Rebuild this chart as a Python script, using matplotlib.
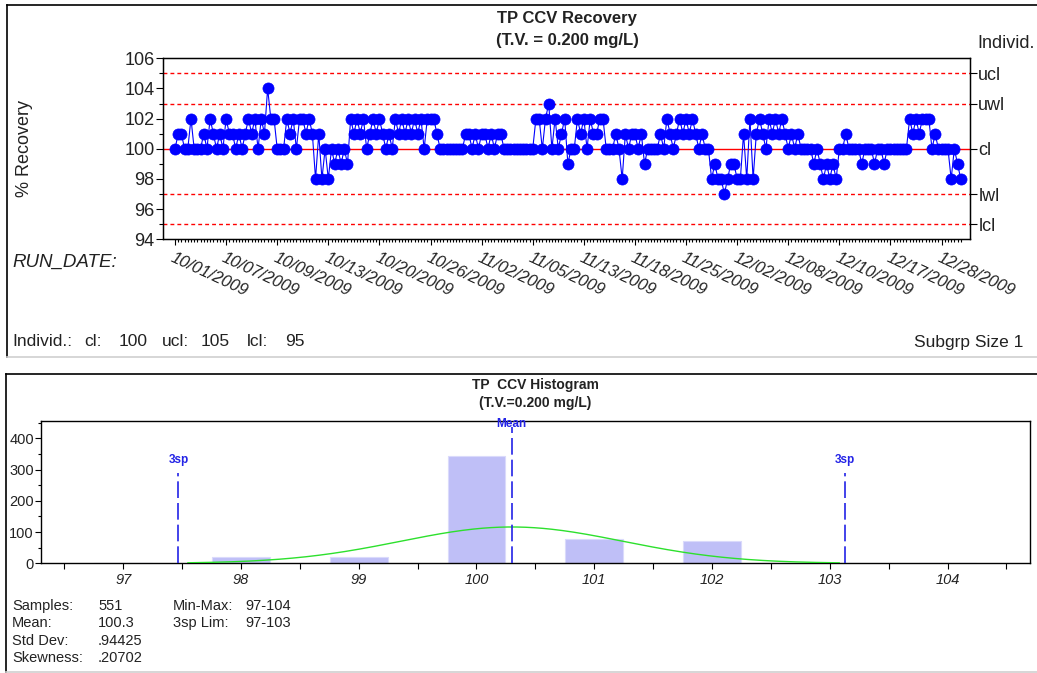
import matplotlib
matplotlib.use("Agg")
import matplotlib.pyplot as plt
from matplotlib.ticker import FixedLocator, MultipleLocator
from matplotlib.lines import Line2D
import numpy as np

plt.rcParams['font.family'] = ['Liberation Sans', 'DejaVu Sans']

# ---------------- data ----------------
recovery = [
    100, 101, 101, 100, 100, 102, 100, 100, 100, 101,
    100, 102, 101, 100, 101, 100, 102, 101, 101, 100,
    101, 100, 101, 102, 101, 102, 100, 102, 101, 104,
    102, 102, 100, 100, 100, 102, 101, 102, 100, 102,
    102, 101, 102, 101, 98, 101, 98, 100, 98, 100,
    99, 100, 99, 100, 99, 102, 101, 102, 101, 102,
    100, 101, 102, 101, 102, 101, 100, 101, 100, 102,
    101, 102, 101, 102, 101, 102, 101, 102, 100, 102,
    102, 102, 101, 100, 100, 100, 100, 100, 100, 100,
    100, 101, 101, 100, 101, 100, 101, 101, 100, 101,
    100, 101, 101, 100, 100, 100, 100, 100, 100, 100,
    100, 100, 100, 102, 102, 100, 102, 103, 100, 102,
    100, 101, 102, 99, 100, 100, 102, 101, 102, 100,
    102, 101, 101, 102, 102, 100, 100, 100, 101, 100,
    98, 101, 100, 101, 101, 100, 101, 99, 100, 100,
    100, 100, 101, 100, 102, 101, 100, 101, 102, 101,
    102, 101, 102, 101, 100, 101, 100, 100, 98, 99,
    98, 98, 97, 98, 99, 99, 98, 98, 101, 98,
    102, 98, 101, 102, 101, 100, 102, 101, 102, 101,
    102, 101, 100, 101, 100, 101, 100, 100, 100, 100,
    99, 100, 99, 98, 99, 98, 99, 98, 100, 100,
    101, 100, 100, 100, 100, 99, 100, 100, 100, 99,
    100, 100, 99, 100, 100, 100, 100, 100, 100, 100,
    102, 101, 102, 101, 102, 102, 102, 100, 101, 100,
    100, 100, 100, 98, 100, 99, 98,
]
date_labels = ["10/01/2009", "10/07/2009", "10/09/2009", "10/13/2009",
               "10/20/2009", "10/26/2009", "11/02/2009", "11/05/2009",
               "11/13/2009", "11/18/2009", "11/25/2009", "12/02/2009",
               "12/08/2009", "12/10/2009", "12/17/2009", "12/28/2009"]
runs_per_label = 16
limit_names = ["ucl", "uwl", "cl", "lwl", "lcl"]
limit_values = [105, 103, 100, 97, 95]

hist_bins = [97, 98, 99, 100, 101, 102, 103, 104]
hist_counts = [1, 20, 20, 345, 77, 70, 1, 1]
n_samples = 551
mean_val = 100.3
std_dev = 0.94425
skewness = 0.20702
sp_low, sp_high = 97.47, 103.13

# ---------------- figure ----------------
W, H = 1037, 673
fig = plt.figure(figsize=(W / 100, H / 100), dpi=100)
def fx(x): return x / W
def fy(y): return 1 - y / H
def rect(l, t, r, b): return [fx(l), fy(b), (r - l) / W, (b - t) / H]

TXT = '#222222'
# panel frames
for (l, t, r, b) in [(7, 5, 1037, 357), (6, 374, 1037, 672)]:
    fig.add_artist(Line2D([fx(l), fx(r)], [fy(t), fy(t)], color='black', lw=1.2))
    fig.add_artist(Line2D([fx(l), fx(l)], [fy(t), fy(b)], color='black', lw=1.2))
    fig.add_artist(Line2D([fx(l), fx(r)], [fy(b), fy(b)], color='#d0d0d0', lw=1.2))

# ---------------- top control chart ----------------
ax = fig.add_axes(rect(163, 58.3, 970, 239.3))
x = np.arange(len(recovery))
ax.axhline(100, color='red', lw=1.0, zorder=1)
for v in limit_values:
    if v != 100:
        ax.axhline(v, color='red', lw=1.0, ls=(0, (2.8, 2.2)), zorder=1)
ax.plot(x, recovery, color='blue', lw=0.8, marker='o', ms=8.0,
        mfc='blue', mec='blue', mew=0.5, zorder=3)
ax.set_xlim(-3.76, 248.9)
ax.set_ylim(94, 106)
ax.set_yticks(np.arange(94, 107, 2))
ax.yaxis.set_minor_locator(MultipleLocator(1))
ax.tick_params(axis='y', which='major', direction='out', length=5, width=0.8,
               labelsize=13, labelcolor=TXT, pad=1)
ax.tick_params(axis='y', which='minor', direction='out', length=3, width=0.8)
major_pos = list(range(0, len(date_labels) * runs_per_label, runs_per_label))
ax.set_xticks(major_pos)
ax.set_xticklabels(date_labels, rotation=-25, ha='left', va='top',
                   rotation_mode='anchor', fontsize=12, style='italic', color=TXT)
ax.xaxis.set_minor_locator(FixedLocator(list(range(len(recovery)))))
ax.tick_params(axis='x', which='major', direction='out', length=4, width=0.8, pad=4)
ax.tick_params(axis='x', which='minor', direction='out', length=2.5, width=0.8)
for s in ax.spines.values():
    s.set_linewidth(1.0)
ax.set_ylabel('% Recovery', fontsize=13, color=TXT, labelpad=66)

ax2 = ax.twinx()
ax2.set_ylim(94, 106)
ax2.set_yticks(limit_values)
ax2.set_yticklabels(limit_names)
ax2.tick_params(axis='y', direction='out', length=5, width=0.8, labelsize=13,
                labelcolor=TXT, pad=1)

fig.text(fx(567), fy(19), 'TP CCV Recovery', ha='center', va='center',
         fontsize=12, fontweight='bold', color=TXT)
fig.text(fx(567), fy(41), '(T.V. = 0.200 mg/L)', ha='center', va='center',
         fontsize=12, fontweight='bold', color=TXT)
fig.text(fx(977), fy(44), 'Individ.', ha='left', va='center', fontsize=13, color=TXT)
fig.text(fx(12), fy(262), 'RUN_DATE:', ha='left', va='center', fontsize=13.5,
         style='italic', color=TXT)
for txt, px in [('Individ.:', 12), ('cl:', 84), ('100', 119), ('ucl:', 162),
                ('105', 201), ('lcl:', 247), ('95', 285)]:
    fig.text(fx(px), fy(342), txt, ha='left', va='center', fontsize=12.5, color=TXT)
fig.text(fx(1023), fy(342), 'Subgrp Size 1', ha='right', va='center',
         fontsize=12.5, color=TXT)

# ---------------- histogram ----------------
axh = fig.add_axes(rect(40.7, 421, 1030, 563.3))
axh.bar(hist_bins, hist_counts, width=0.49, color='#bfbff7', edgecolor='#dadafb',
        lw=0.8, zorder=2)
xs = np.linspace(sp_low + 0.08, sp_high - 0.05, 300)
curve = n_samples * 0.5 / (std_dev * np.sqrt(2 * np.pi)) * \
    np.exp(-0.5 * ((xs - mean_val) / std_dev) ** 2)
axh.plot(xs, curve, color='#2de02d', lw=1.0, zorder=3)
ytop = 456
axh.set_xlim(96.3, 104.7)
axh.set_ylim(0, ytop)
BL = '#2323e6'
axh.plot([mean_val, mean_val], [0, 437], color=BL, lw=1.2, ls=(0, (10, 3)), zorder=4)
for v in (sp_low, sp_high):
    axh.plot([v, v], [0, 288], color=BL, lw=1.2, ls=(0, (10, 3)), zorder=4)
    axh.text(v, 330, '3sp', ha='center', va='center', fontsize=8.5,
             fontweight='bold', color=BL)
axh.text(mean_val, 447, 'Mean', ha='center', va='center', fontsize=8.5,
         fontweight='bold', color=BL)
axh.set_xticks(hist_bins)
axh.set_xticklabels([str(b) for b in hist_bins], style='italic', fontsize=10.5, color=TXT)
axh.xaxis.set_minor_locator(FixedLocator([b + 0.5 for b in range(96, 105)]))
axh.tick_params(axis='x', which='both', direction='out', length=4, width=0.8, pad=3)
axh.set_yticks([0, 100, 200, 300, 400])
axh.yaxis.set_minor_locator(MultipleLocator(50))
axh.tick_params(axis='y', which='major', direction='out', length=4, width=0.8,
                labelsize=10.5, labelcolor=TXT, pad=1)
axh.tick_params(axis='y', which='minor', direction='out', length=2.5, width=0.8)
for s in axh.spines.values():
    s.set_linewidth(1.0)

fig.text(fx(535), fy(385), 'TP  CCV Histogram', ha='center', va='center',
         fontsize=10, fontweight='bold', color=TXT)
fig.text(fx(535), fy(403), '(T.V.=0.200 mg/L)', ha='center', va='center',
         fontsize=10, fontweight='bold', color=TXT)

stats_left = [('Samples:', str(n_samples)), ('Mean:', f'{mean_val}'),
              ('Std Dev:', '.94425'), ('Skewness:', '.20702')]
stats_right = [('Min-Max:', '97-104'), ('3sp Lim:', '97-103')]
rows_y = [606, 623, 641, 658]
for (lab, val), yy in zip(stats_left, rows_y):
    fig.text(fx(12), fy(yy), lab, ha='left', va='center', fontsize=10.5, color=TXT)
    fig.text(fx(98), fy(yy), val, ha='left', va='center', fontsize=10.5, color=TXT)
for (lab, val), yy in zip(stats_right, rows_y):
    fig.text(fx(173), fy(yy), lab, ha='left', va='center', fontsize=10.5, color=TXT)
    fig.text(fx(245), fy(yy), val, ha='left', va='center', fontsize=10.5, color=TXT)

fig.savefig('out.png', dpi=100)
